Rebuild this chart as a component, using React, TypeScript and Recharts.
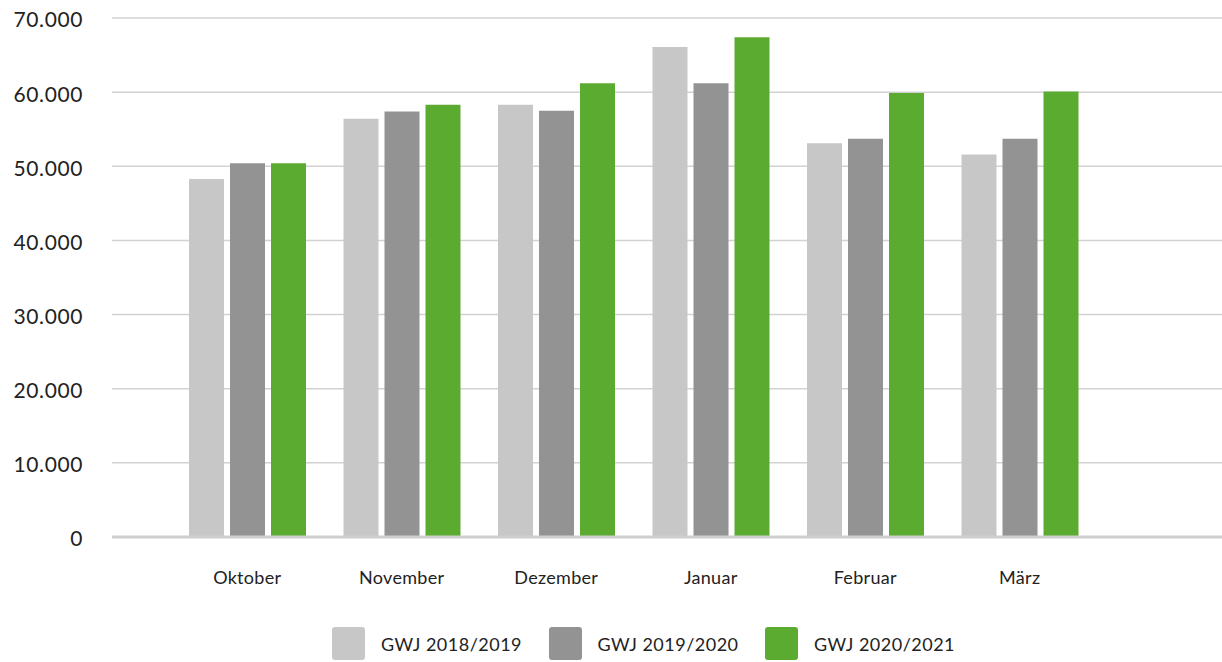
import { BarChart, Bar, XAxis, YAxis, CartesianGrid, Legend } from 'recharts';

const months = ['Oktober', 'November', 'Dezember', 'Januar', 'Februar', 'März'];
const gwj1819 = [48300, 56400, 58300, 66100, 53100, 51600];
const gwj1920 = [50400, 57400, 57500, 61200, 53700, 53700];
const gwj2021 = [50400, 58300, 61200, 67400, 59900, 60100];
const yTicks = [0, 10000, 20000, 30000, 40000, 50000, 60000, 70000];

const series = [
  { key: 'gwj1819', name: 'GWJ 2018/2019', color: '#c6c7c6' },
  { key: 'gwj1920', name: 'GWJ 2019/2020', color: '#929392' },
  { key: 'gwj2021', name: 'GWJ 2020/2021', color: '#5cab31' },
];

const data = months.map((month, i) => ({
  month,
  gwj1819: gwj1819[i],
  gwj1920: gwj1920[i],
  gwj2021: gwj2021[i],
}));

const font = 'Lato, "Noto Sans", sans-serif';

// 50000 -> "50.000"
const formatThousands = (v: number) =>
  String(v).replace(/\B(?=(\d{3})+(?!\d))/g, '.');

const LegendBoxes = () => (
  <div style={{ display: 'flex', paddingLeft: 332, fontFamily: font }}>
    {series.map((s) => (
      <div key={s.key} style={{ display: 'flex', alignItems: 'center', width: 216.5 }}>
        <div style={{ width: 33, height: 33, borderRadius: 3, background: s.color }} />
        <span style={{ marginLeft: 16, fontSize: 18, color: '#222', letterSpacing: 0.5 }}>
          {s.name}
        </span>
      </div>
    ))}
  </div>
);

const App = () => {
  return (
    <div style={{ position: 'absolute', left: 0, top: 0, width: 1222, height: 662, background: '#fff' }}>
      <BarChart
        width={1222}
        height={662}
        data={data}
        margin={{ top: 18, right: 0, bottom: 1, left: 0 }}
        barGap={6}
        barSize={35}
      >
        <CartesianGrid vertical={false} stroke="#d2d2d2" strokeWidth={1.5} />
        <XAxis
          dataKey="month"
          height={90}
          padding={{ left: 58, right: 125 }}
          axisLine={{ stroke: '#cfcfcf', strokeWidth: 3 }}
          tickLine={false}
          tickSize={0}
          tickMargin={34}
          tick={{ fill: '#222', fontSize: 18, fontFamily: font, letterSpacing: 0.3 }}
        />
        <YAxis
          width={112}
          domain={[0, 70000]}
          ticks={yTicks}
          interval={0}
          axisLine={false}
          tickLine={false}
          tickSize={0}
          tickMargin={29}
          tickFormatter={formatThousands}
          tick={{ fill: '#222', fontSize: 21, fontFamily: font, letterSpacing: 0.6, dy: 2 }}
        />
        <Legend verticalAlign="bottom" height={34} wrapperStyle={{ left: 0, width: 1222 }} content={() => <LegendBoxes />} />
        {series.map((s) => (
          <Bar key={s.key} dataKey={s.key} name={s.name} fill={s.color} isAnimationActive={false} />
        ))}
      </BarChart>
    </div>
  );
};

export default App;
